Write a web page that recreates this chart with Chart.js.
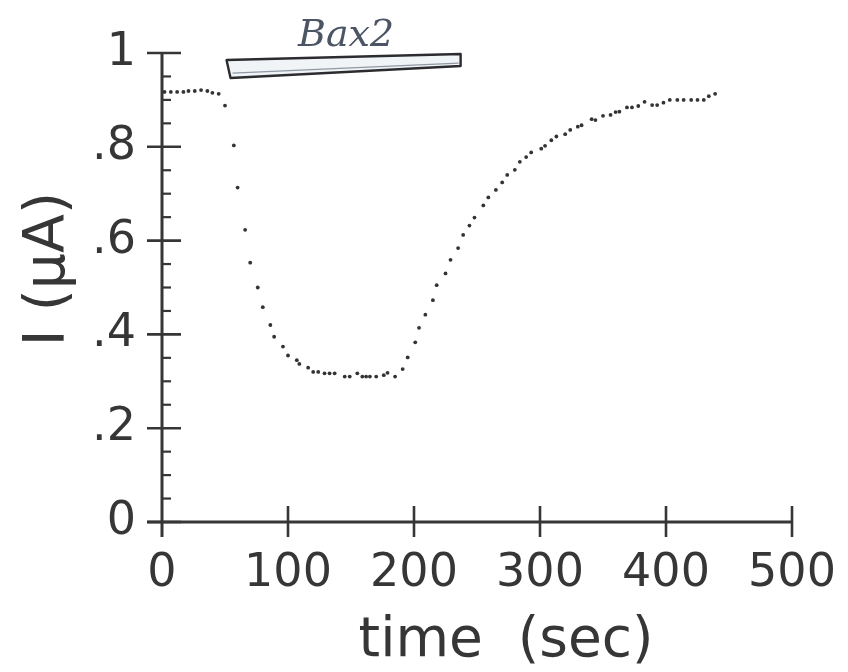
<!DOCTYPE html>
<html>
<head>
<meta charset="utf-8">
<script src="https://cdn.jsdelivr.net/npm/chart.js@4"></script>
<style>
  html, body { margin: 0; padding: 0; background: #ffffff; }
  #wrap { width: 848px; height: 672px; position: relative; }
</style>
</head>
<body>
<div id="wrap"><canvas id="c" width="848" height="672"></canvas></div>
<script>
// ---- data ----
const times = [2, 7, 12, 17, 21, 26, 31, 36, 40, 45,
  50, 57, 60, 66, 70, 76, 80, 86, 89, 96,
  100, 107, 109, 116, 120, 124, 129, 133, 137, 145,
  149, 155, 159, 162, 165, 170, 176, 179, 185, 191,
  195, 201, 204, 209, 215, 218, 225, 229, 235, 239,
  244, 248, 255, 259, 265, 270, 274, 280, 284, 289,
  293, 301, 304, 309, 313, 320, 324, 330, 333, 341,
  344, 350, 356, 360, 363, 369, 373, 378, 383, 389,
  393, 398, 403, 409, 414, 420, 425, 430, 434, 439];
const currents = [0.917, 0.917, 0.917, 0.917, 0.919, 0.919, 0.921, 0.919, 0.915, 0.913,
  0.888, 0.803, 0.713, 0.623, 0.553, 0.500, 0.458, 0.420, 0.395, 0.374,
  0.355, 0.345, 0.337, 0.329, 0.320, 0.320, 0.317, 0.317, 0.317, 0.310,
  0.310, 0.317, 0.310, 0.310, 0.310, 0.310, 0.313, 0.318, 0.310, 0.326,
  0.351, 0.383, 0.414, 0.442, 0.473, 0.505, 0.530, 0.559, 0.584, 0.612,
  0.632, 0.649, 0.675, 0.692, 0.708, 0.724, 0.740, 0.751, 0.768, 0.778,
  0.788, 0.796, 0.802, 0.814, 0.822, 0.827, 0.836, 0.843, 0.846, 0.859,
  0.857, 0.866, 0.868, 0.874, 0.875, 0.884, 0.884, 0.887, 0.896, 0.889,
  0.889, 0.894, 0.900, 0.900, 0.900, 0.900, 0.900, 0.900, 0.908, 0.913];
const xTickLabels = ['0', '100', '200', '300', '400', '500'];
const yTickLabels = ['0', '.2', '.4', '.6', '.8', '1'];
const xTitle = 'time  (sec)';
const yTitle = 'I (\u00b5A)';
const stimulusSpan = [52, 237];   // seconds, hand-drawn bar
const stimulusLevel = 0.97;
const stimulusLabel = 'Bax2';
const yMinorStep = 0.05;

const points = times.map((t, i) => ({ x: t, y: currents[i] }));
const INK = '#363636';
const FONT = '"DejaVu Sans", sans-serif';

function seg(ctx, x1, y1, x2, y2) {
  ctx.beginPath(); ctx.moveTo(x1, y1); ctx.lineTo(x2, y2); ctx.stroke();
}

const axesPlugin = {
  id: 'handAxes',
  beforeDatasetsDraw(chart) {
    const { ctx, scales: { x, y } } = chart;
    const x0 = x.getPixelForValue(0);
    const y0 = y.getPixelForValue(0);
    const yTop = y.getPixelForValue(1);
    const xEnd = x.getPixelForValue(500);
    ctx.save();
    ctx.strokeStyle = INK;
    ctx.lineCap = 'butt';
    ctx.lineWidth = 3;
    seg(ctx, x0, yTop, x0, y0 + 15);
    seg(ctx, x0 - 15, y0, xEnd, y0);
    ctx.lineWidth = 2.6;
    y.ticks.forEach(t => {
      const py = y.getPixelForValue(t.value);
      seg(ctx, x0 - 15, py, x0 + 19, py);
    });
    ctx.lineWidth = 2.2;
    const nMinor = Math.round(1 / yMinorStep);
    for (let i = 1; i < nMinor; i++) {
      if (i % 4 === 0) continue;
      const py = y.getPixelForValue(i * yMinorStep);
      seg(ctx, x0, py, x0 + 9, py);
    }
    ctx.lineWidth = 2.6;
    x.ticks.forEach(t => {
      if (t.value === 0) return;
      const px = x.getPixelForValue(t.value);
      seg(ctx, px, y0 - 16, px, y0 + 15);
    });
    ctx.restore();
  },
  afterDraw(chart) {
    const { ctx, scales: { x, y } } = chart;
    ctx.save();
    // axis titles
    ctx.fillStyle = INK;
    ctx.font = '55px ' + FONT;
    ctx.textAlign = 'center';
    ctx.textBaseline = 'alphabetic';
    ctx.fillText(xTitle, 506, 656);
    ctx.save();
    ctx.translate(64, 269);
    ctx.rotate(-Math.PI / 2);
    ctx.font = '57px ' + FONT;
    ctx.fillText(yTitle, 0, 0);
    ctx.restore();
    // stimulus bar
    const bx0 = x.getPixelForValue(stimulusSpan[0]);
    const bx1 = x.getPixelForValue(stimulusSpan[1]);
    const by = y.getPixelForValue(stimulusLevel);
    ctx.beginPath();
    ctx.moveTo(bx0 - 1, by - 7);
    ctx.lineTo(bx1, by - 13);
    ctx.lineTo(bx1, by - 1);
    ctx.lineTo(bx0 + 3, by + 11);
    ctx.closePath();
    ctx.fillStyle = '#f1f4f6';
    ctx.fill();
    ctx.strokeStyle = '#2c2c30';
    ctx.lineWidth = 2.4;
    ctx.lineJoin = 'round';
    ctx.stroke();
    ctx.strokeStyle = '#8f98a4';
    ctx.lineWidth = 1.2;
    seg(ctx, bx0 + 5, by + 6, bx1 - 2, by - 4);
    // hand-written label
    ctx.fillStyle = '#4b5563';
    ctx.font = 'italic 38px "DejaVu Serif", serif';
    ctx.textAlign = 'left';
    ctx.fillText(stimulusLabel, 298, 46);
    ctx.restore();
  }
};

new Chart(document.getElementById('c'), {
  type: 'scatter',
  data: {
    datasets: [{
      data: points,
      showLine: false,
      pointRadius: 1.9,
      pointHoverRadius: 1.9,
      pointBackgroundColor: '#333333',
      pointBorderWidth: 0,
      clip: false
    }]
  },
  plugins: [axesPlugin],
  options: {
    responsive: false,
    animation: false,
    events: [],
    layout: { padding: { left: 0, top: 53, right: 56, bottom: 0 } },
    plugins: { legend: { display: false }, tooltip: { enabled: false }, title: { display: false } },
    scales: {
      x: {
        type: 'linear', min: 0, max: 500,
        grid: { display: false, drawTicks: false },
        border: { display: false },
        ticks: {
          stepSize: 100, color: INK, padding: 24,
          font: { family: FONT, size: 46 },
          maxRotation: 0,
          callback: (v, i) => xTickLabels[i]
        },
        afterFit: s => { s.height = 150; s.paddingLeft = 0; s.paddingRight = 0; }
      },
      y: {
        type: 'linear', min: 0, max: 1,
        grid: { display: false, drawTicks: false },
        border: { display: false },
        ticks: {
          stepSize: 0.2, color: INK, padding: 26,
          font: { family: FONT, size: 46 },
          callback: (v, i) => yTickLabels[i]
        },
        afterFit: s => { s.width = 162; s.paddingTop = 0; s.paddingBottom = 0; }
      }
    }
  }
});
</script>
</body>
</html>
